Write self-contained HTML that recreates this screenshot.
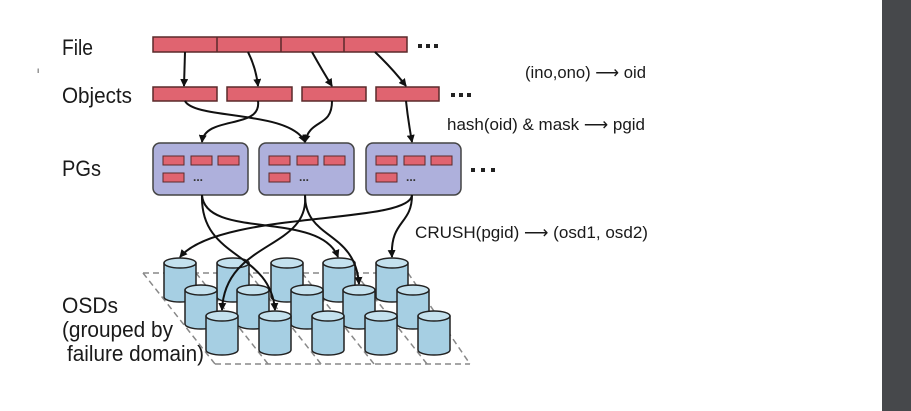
<!DOCTYPE html>
<html><head><meta charset="utf-8"><style>
html,body{margin:0;padding:0;background:#fff;width:911px;height:411px;overflow:hidden}
svg{display:block}
text{font-family:"Liberation Sans",sans-serif;fill:#1a1a1a}
</style></head><body>
<svg width="911" height="411" viewBox="0 0 911 411" xmlns="http://www.w3.org/2000/svg">
<defs>
<marker id="ah" markerWidth="8" markerHeight="8" refX="7" refY="4" orient="auto" markerUnits="userSpaceOnUse">
<path d="M0,0 L8,4 L0,8 z" fill="#111"/></marker>
<g id="cyl">
<path d="M-16,0 L-16,34 A16,5 0 0 0 16,34 L16,0" fill="#a6cfe3" stroke="#222" stroke-width="1.5"/>
<ellipse cx="0" cy="0" rx="16" ry="5" fill="#c4e1ee" stroke="#222" stroke-width="1.5"/>
</g>
<g id="pg">
<rect x="0" y="0" width="95" height="52" rx="7" fill="#aeb0dc" stroke="#444" stroke-width="1.5"/>
<rect x="10" y="13" width="21" height="9" fill="#e06470" stroke="#5a2a2a"/>
<rect x="38" y="13" width="21" height="9" fill="#e06470" stroke="#5a2a2a"/>
<rect x="65" y="13" width="21" height="9" fill="#e06470" stroke="#5a2a2a"/>
<rect x="10" y="30" width="21" height="9" fill="#e06470" stroke="#5a2a2a"/>
<text x="40" y="38" font-size="12" font-weight="bold" style="fill:#333">...</text>
</g>
</defs>
<rect x="882" y="0" width="29" height="411" fill="#46484b"/>
<text x="37" y="73" font-size="8">ı</text>
<!-- labels -->
<text x="62" y="55" font-size="22" textLength="31" lengthAdjust="spacingAndGlyphs">File</text>
<text x="62" y="103" font-size="22" textLength="70" lengthAdjust="spacingAndGlyphs">Objects</text>
<text x="62" y="176" font-size="22" textLength="39" lengthAdjust="spacingAndGlyphs">PGs</text>
<text x="62" y="313" font-size="22" textLength="56" lengthAdjust="spacingAndGlyphs">OSDs</text>
<text x="62" y="337" font-size="22" textLength="111" lengthAdjust="spacingAndGlyphs">(grouped by</text>
<text x="67" y="361" font-size="22" textLength="137" lengthAdjust="spacingAndGlyphs">failure domain)</text>
<text x="525" y="78" font-size="17" textLength="121" lengthAdjust="spacingAndGlyphs">(ino,ono) ⟶ oid</text>
<text x="447" y="130" font-size="17" textLength="198" lengthAdjust="spacingAndGlyphs">hash(oid) &amp; mask ⟶ pgid</text>
<text x="415" y="238" font-size="17" textLength="233" lengthAdjust="spacingAndGlyphs">CRUSH(pgid) ⟶ (osd1, osd2)</text>
<!-- file -->
<rect x="153" y="37" width="254" height="15" fill="#e06470" stroke="#5a2a2a" stroke-width="1.5"/>
<line x1="217" y1="37" x2="217" y2="52" stroke="#5a2a2a" stroke-width="1.5"/>
<line x1="281" y1="37" x2="281" y2="52" stroke="#5a2a2a" stroke-width="1.5"/>
<line x1="344" y1="37" x2="344" y2="52" stroke="#5a2a2a" stroke-width="1.5"/>
<g fill="#222"><rect x="418" y="44" width="4" height="4"/><rect x="426" y="44" width="4" height="4"/><rect x="434" y="44" width="4" height="4"/>
<rect x="451" y="93" width="4" height="4"/><rect x="459" y="93" width="4" height="4"/><rect x="467" y="93" width="4" height="4"/>
<rect x="471" y="168" width="4" height="4"/><rect x="481" y="168" width="4" height="4"/><rect x="491" y="168" width="4" height="4"/></g>
<!-- objects -->
<g fill="#e06470" stroke="#5a2a2a" stroke-width="1.5">
<rect x="153" y="87" width="64" height="14"/>
<rect x="227" y="87" width="65" height="14"/>
<rect x="302" y="87" width="64" height="14"/>
<rect x="376" y="87" width="63" height="14"/>
</g>
<!-- pgs -->
<use href="#pg" x="153" y="143"/>
<use href="#pg" x="259" y="143"/>
<use href="#pg" x="366" y="143"/>
<!-- arrows -->
<g fill="none" stroke="#111" stroke-width="2" marker-end="url(#ah)">
<path d="M185,52 L184,86"/>
<path d="M248,52 Q256,68 258,86"/>
<path d="M312,52 Q322,70 332,86"/>
<path d="M375,52 Q392,68 406,86"/>
<path d="M185,101 C195,120 290,110 305,142"/>
<path d="M258,101 C262,130 205,115 202,142"/>
<path d="M332,101 C332,128 310,118 305,142"/>
<path d="M406,101 Q408,120 412,142"/>
</g>
<!-- dashed floor -->
<g stroke="#888" stroke-width="1.5" stroke-dasharray="6,4" fill="none">
<path d="M143,273 L385,273"/>
<path d="M215,364 L470,364"/>
<path d="M143,273 L215,364"/>
<path d="M196,273 L268,364"/>
<path d="M249,273 L321,364"/>
<path d="M302,273 L374,364"/>
<path d="M355,273 L427,364"/>
<path d="M408,273 L470,364"/>
</g>
<!-- cylinders -->
<use href="#cyl" x="180" y="263"/><use href="#cyl" x="233" y="263"/><use href="#cyl" x="287" y="263"/><use href="#cyl" x="339" y="263"/><use href="#cyl" x="392" y="263"/>
<use href="#cyl" x="201" y="290"/><use href="#cyl" x="253" y="290"/><use href="#cyl" x="307" y="290"/><use href="#cyl" x="359" y="290"/><use href="#cyl" x="413" y="290"/>
<use href="#cyl" x="222" y="316"/><use href="#cyl" x="275" y="316"/><use href="#cyl" x="328" y="316"/><use href="#cyl" x="381" y="316"/><use href="#cyl" x="434" y="316"/>
<!-- PG to OSD arrows -->
<g fill="none" stroke="#111" stroke-width="2" marker-end="url(#ah)">
<path d="M202,195 C200,260 270,250 275,310"/>
<path d="M202,195 C205,240 320,210 338,257"/>
<path d="M305,195 C310,250 225,240 222,310"/>
<path d="M305,195 C305,240 355,230 359,284"/>
<path d="M412,195 C410,225 220,210 180,257"/>
<path d="M412,195 C412,225 390,220 392,257"/>
</g>
</svg>
</body></html>
